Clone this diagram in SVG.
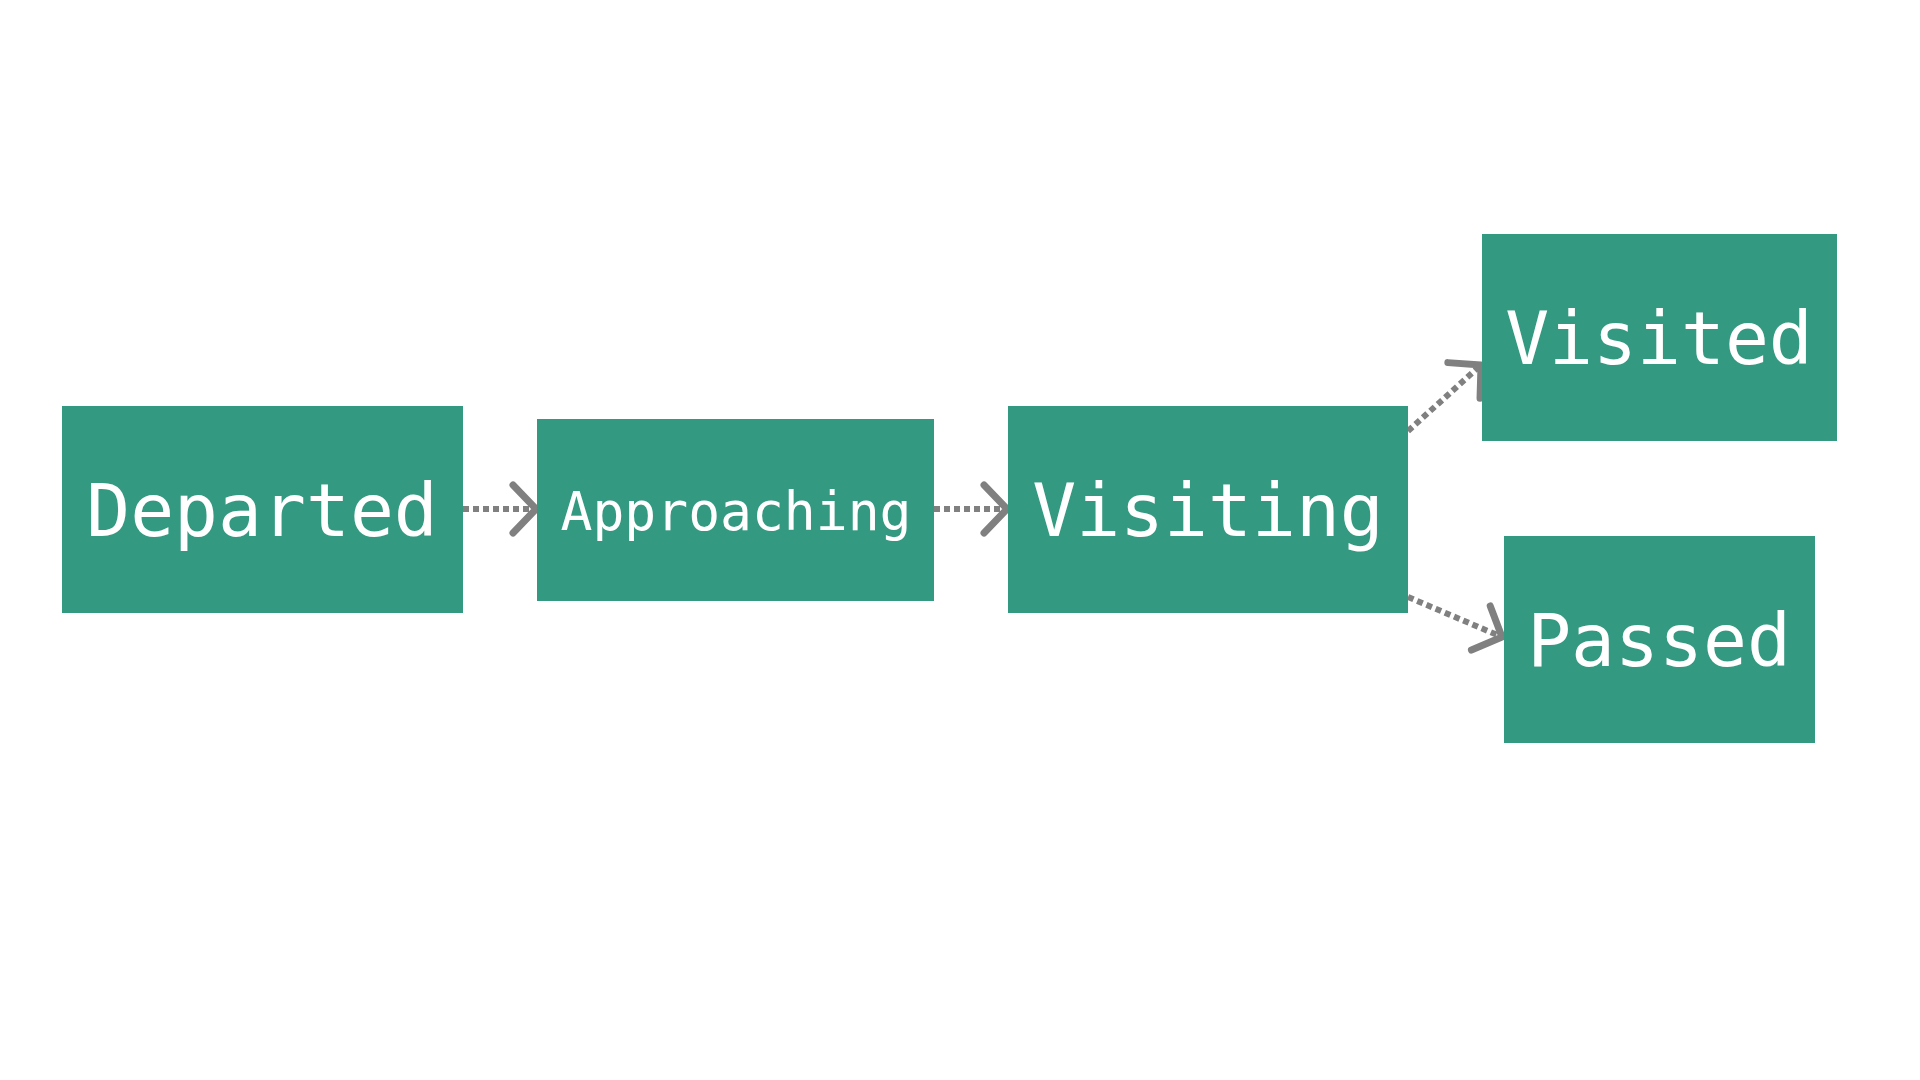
<svg xmlns="http://www.w3.org/2000/svg" width="1920" height="1080" viewBox="0 0 1920 1080">
<style>
.box{fill:#339980}
.lbl{fill:#ffffff;font-family:"DejaVu Sans Mono","Liberation Mono",monospace;text-anchor:middle}
.big{font-size:73px}
.small{font-size:53px}
.conn{stroke:#808080;stroke-width:6;stroke-dasharray:6 4;fill:none}
</style>
<defs>
<marker id="arr" markerUnits="userSpaceOnUse" markerWidth="60" markerHeight="60" viewBox="-30 -30 60 60" refX="0" refY="0" orient="auto" overflow="visible">
<path d="M -23 -24 L 0 0 L -23 24" fill="none" stroke="#808080" stroke-width="7" stroke-linecap="round" stroke-linejoin="round"/>
</marker>
</defs>
<rect width="1920" height="1080" fill="#ffffff"/>
<g id="connectors">
<line class="conn" x1="463" y1="509" x2="536" y2="509" marker-end="url(#arr)"/>
<line class="conn" x1="934" y1="509" x2="1007" y2="509" marker-end="url(#arr)"/>
<line class="conn" x1="1408" y1="431" x2="1481" y2="365" marker-end="url(#arr)"/>
<line class="conn" x1="1408" y1="597" x2="1502" y2="637" marker-end="url(#arr)"/>
</g>
<g id="departed">
<rect class="box" x="62" y="406" width="401" height="207"/>
<text class="lbl big" x="262" y="536">Departed</text>
</g>
<g id="approaching">
<rect class="box" x="537" y="419" width="397" height="182"/>
<text class="lbl small" x="736" y="530">Approaching</text>
</g>
<g id="visiting">
<rect class="box" x="1008" y="406" width="400" height="207"/>
<text class="lbl big" x="1208" y="536">Visiting</text>
</g>
<g id="visited">
<rect class="box" x="1482" y="234" width="355" height="207"/>
<text class="lbl big" x="1659" y="364">Visited</text>
</g>
<g id="passed">
<rect class="box" x="1504" y="536" width="311" height="207"/>
<text class="lbl big" x="1659" y="666">Passed</text>
</g>
</svg>
